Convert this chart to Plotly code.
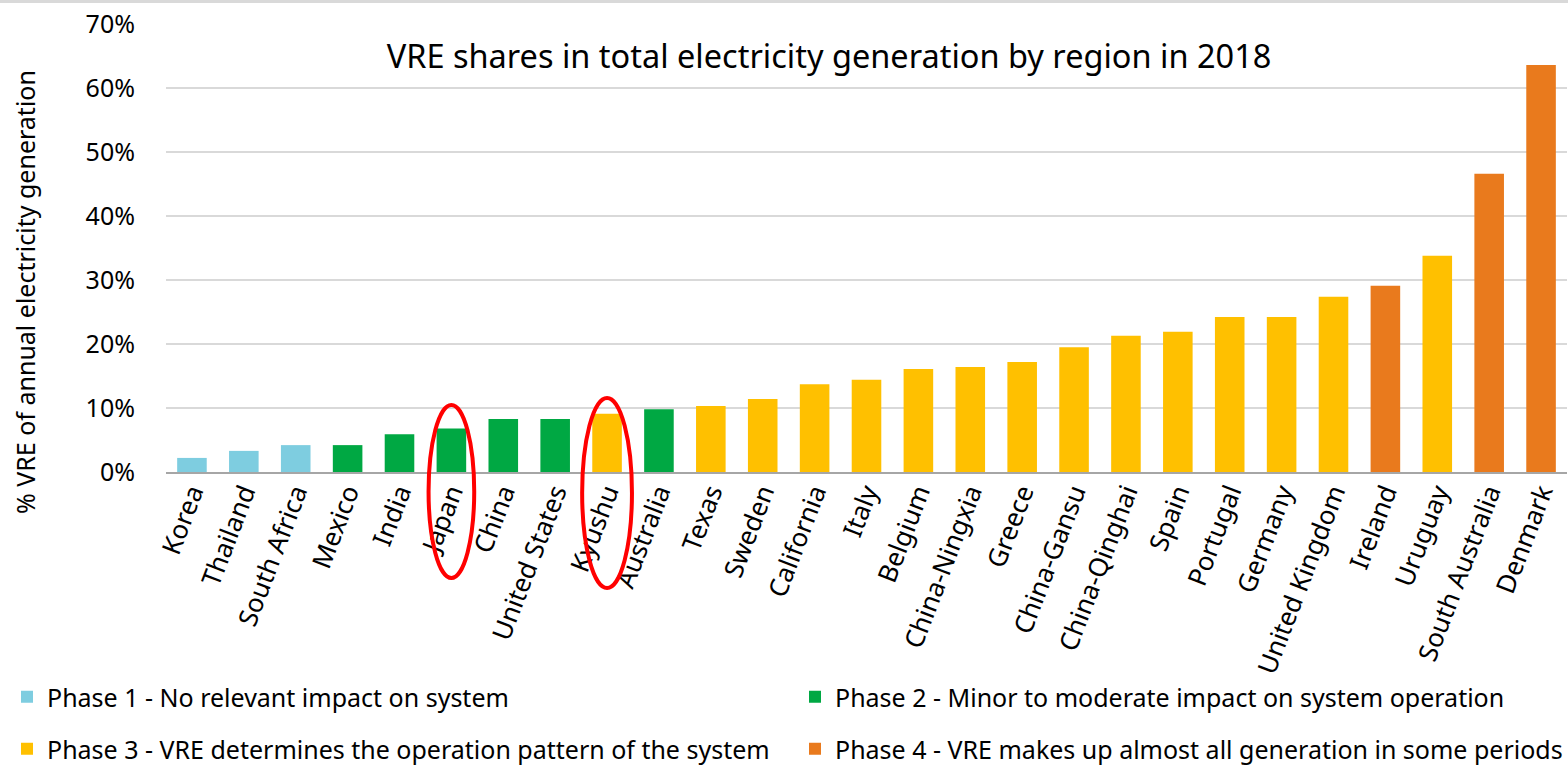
import plotly.graph_objects as go

regions = ["Korea", "Thailand", "South Africa", "Mexico", "India", "Japan", "China",
           "United States", "Kyushu", "Australia", "Texas", "Sweden", "California", "Italy",
           "Belgium", "China-Ningxia", "Greece", "China-Gansu", "China-Qinghai", "Spain",
           "Portugal", "Germany", "United Kingdom", "Ireland", "Uruguay", "South Australia",
           "Denmark"]
vre_share = [2.2, 3.3, 4.2, 4.2, 5.9, 6.8, 8.3, 8.3, 9.1, 9.8, 10.3, 11.4, 13.7, 14.4,
             16.1, 16.4, 17.2, 19.5, 21.3, 21.9, 24.2, 24.2, 27.4, 29.1, 33.8, 46.6, 63.6]
phase = [1, 1, 1, 2, 2, 2, 2, 2, 3, 2, 3, 3, 3, 3, 3, 3, 3, 3, 3, 3, 3, 3, 3, 4, 3, 4, 4]

phase_names = {
    1: "Phase 1 - No relevant impact on system",
    2: "Phase 2 - Minor to moderate impact on system operation",
    3: "Phase 3 - VRE determines the operation pattern of the system",
    4: "Phase 4 - VRE makes up almost all generation in some periods",
}
phase_colors = {1: "#7ECDE0", 2: "#00A843", 3: "#FFC000", 4: "#E97A1D"}
highlighted = ["Japan", "Kyushu"]

FONT = "Noto Sans"
W, H = 1568, 766
L, R, T, B = 166, 1, 24, 294
plot_h = H - T - B
plot_w = W - L - R

def py(pix):
    return (H - B - pix) / plot_h

def px(pix):
    return (pix - L) / plot_w

# legend slot (left px of legend box, vertical centre px of the row) for each phase
legend_ids = {1: "legend", 2: "legend2", 3: "legend3", 4: "legend4"}
legend_pos = {1: (7, 697), 2: (795, 697), 3: (7, 749), 4: (795, 749)}

fig = go.Figure()
for p in [1, 2, 3, 4]:
    xs = [r for r, ph in zip(regions, phase) if ph == p]
    ys = [v / 100 for v, ph in zip(vre_share, phase) if ph == p]
    fig.add_trace(go.Bar(x=xs, y=ys, name=phase_names[p],
                         marker=dict(color=phase_colors[p], line=dict(width=0)),
                         legend=legend_ids[p]))

# red ellipses around highlighted regions
ell = {"Japan": (0.44, 405, 578), "Kyushu": (0.48, 398, 588)}
for name in highlighted:
    i = regions.index(name)
    hw, ytop, ybot = ell[name]
    fig.add_shape(type="circle", xref="x", yref="paper",
                  x0=i - hw, x1=i + hw, y0=py(ybot), y1=py(ytop),
                  line=dict(color="#FF0000", width=4), layer="above")

# thin frame line at the very top
fig.add_shape(type="line", xref="paper", yref="paper", x0=px(0), x1=px(W),
              y0=py(1.5), y1=py(1.5), line=dict(color="#D9D9D9", width=3))

legend_layout = {}
for p in [1, 2, 3, 4]:
    lx, ly = legend_pos[p]
    legend_layout[legend_ids[p]] = dict(
        orientation="h", x=px(lx), xanchor="left", y=py(ly), yanchor="middle",
        font=dict(size=25, color="#000000"), bgcolor="rgba(0,0,0,0)")

fig.update_layout(
    width=W, height=H,
    margin=dict(l=L, r=R, t=T, b=B, autoexpand=False),
    plot_bgcolor="white", paper_bgcolor="white",
    barmode="relative", bargap=0.43,
    font=dict(family=FONT, color="#000000"),
    title=dict(text="VRE shares in total electricity generation by region in 2018",
               x=829 / W, xanchor="center", xref="container", yref="container",
               y=1 - 57 / H, yanchor="middle",
               font=dict(size=32.5, family=FONT, color="#000000")),
    xaxis=dict(categoryorder="array", categoryarray=regions,
               range=[-0.5, len(regions) - 0.5],
               tickangle=-69, tickfont=dict(size=26, color="#000000"),
               ticklabelstandoff=-7,
               showline=True, linecolor="#A6A6A6", linewidth=2,
               ticks="", showgrid=False),
    yaxis=dict(range=[0, 0.7], dtick=0.1, tickformat=".0%",
               tickfont=dict(size=25, color="#000000"),
               showgrid=True, gridcolor="#D9D9D9", gridwidth=1.5,
               zeroline=False, ticklabelstandoff=30, showline=False),
    showlegend=True,
    **legend_layout,
)

fig.add_annotation(text="% VRE of annual electricity generation", textangle=-90,
                   xref="paper", yref="paper", x=px(25), y=py(292),
                   xanchor="center", yanchor="middle", showarrow=False,
                   font=dict(size=25, family=FONT, color="#000000"))

fig.write_html("out.html", config={"displayModeBar": False},
               post_script="document.body.style.margin='0';document.body.style.padding='0';")
